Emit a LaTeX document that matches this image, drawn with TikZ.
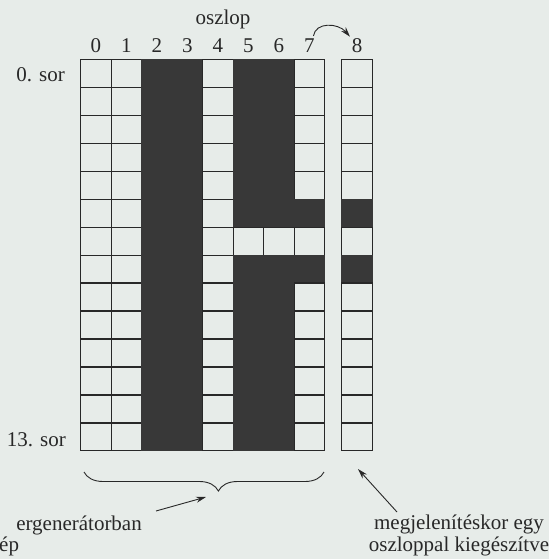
\documentclass[tikz,border=0pt]{standalone}
\usepackage{fontspec}
\setmainfont{Liberation Serif}
\usetikzlibrary{arrows.meta,decorations.pathreplacing,calc}
\definecolor{bg}{RGB}{231,236,233}
\definecolor{ink}{RGB}{40,40,40}
\definecolor{dark}{RGB}{56,56,56}
\begin{document}
\begin{tikzpicture}[x=1pt,y=-1pt,
  cell/.style={draw=ink,line width=1.3pt,minimum width=30.5pt,minimum height=27.95pt,inner sep=0pt,outer sep=0pt},
  darkcell/.style={fill=dark,draw=dark},
  lab/.style={text=ink,font=\fontsize{21}{21.5}\selectfont,inner sep=0pt},
  arr/.style={draw=ink,line width=0.9pt,-{Stealth[length=10pt,width=6pt]}},
  bracestyle/.style={draw=ink,line width=0.9pt,decorate,decoration={brace,mirror,amplitude=19pt,aspect=0.56}}
]
\fill[bg] (0,0) rectangle (549,559);
\useasboundingbox (0,0) rectangle (549,559);

% character cells
\foreach \c in {0,...,8}{
  \foreach \r in {0,...,13}{
    \pgfmathtruncatemacro\dk{((\c==2)||(\c==3)||(((\c==5)||(\c==6))&&(\r!=6))||(((\c==7)||(\c==8))&&((\r==5)||(\r==7))))}
    \pgfmathsetmacro\xx{(\c<8)?(95.95+30.5*\c):357}
    \pgfmathsetmacro\yy{73.475+27.95*\r}
    \ifnum\dk=1
      \node[cell,darkcell] (c\c-\r) at (\xx,\yy) {};
    \else
      \node[cell] (c\c-\r) at (\xx,\yy) {};
    \fi
  }
}

% labels
\node[lab] (osz) at (223,19) {oszlop};
\foreach \c in {0,...,7}{
  \node[lab] (n\c) at (95.95+30.5*\c,46) {\c};
}
\node[lab] (n8) at (357,46) {8};
\node[lab,anchor=east] (r0) at (65,75) {0. sor};
\node[lab,anchor=east] (r13) at (66,440) {13. sor};

\node[lab,anchor=east] (lt1) at (142,525) {ergenerátorban};
\node[lab,anchor=west] (lt2) at (-1,546) {ép};
\node[lab,align=center] (rtxt) at (459,535.5) {megjelenítéskor egy\\oszloppal kiegészítve};

% curved arrow 7 -> 8
\draw[arr] ([shift={(4,-3)}]n7.north) .. controls +(2,-14) and +(-12,-14) .. ([shift={(-7,-2)}]n8.north);

% brace under columns 0-7
\coordinate (bl) at (84,472);
\coordinate (br) at (324,472);
\draw[bracestyle] (bl) -- (br);

% pointer arrows
\coordinate (la) at (156,511);
\coordinate (lb) at (206,497);
\draw[arr] (la) -- (lb);
\coordinate (ra) at (397,512);
\coordinate (rb) at (358,469);
\draw[arr] (ra) -- (rb);
\end{tikzpicture}
\end{document}
